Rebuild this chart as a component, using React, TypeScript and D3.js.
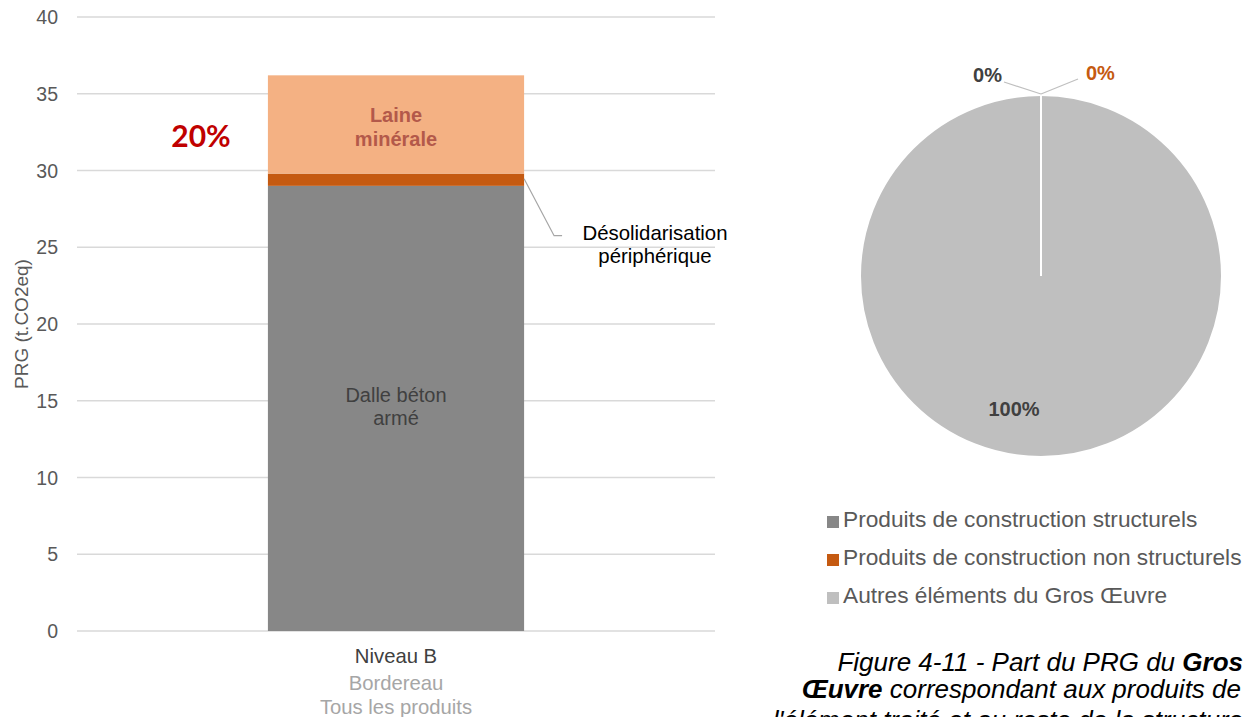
import React from "react";
import * as d3 from "d3";

// ---------- DATA ----------
const categories = ["Niveau B"];
const categorySubLabels = ["Bordereau", "Tous les produits"];
const barSeries = ["Dalle béton armé", "Désolidarisation périphérique", "Laine minérale"];
const barValues = [29.0, 0.8, 6.4];
const barColors = ["#878787", "#c55a11", "#f4b183"];
const yTicks = [0, 5, 10, 15, 20, 25, 30, 35, 40];
const yTitle = "PRG (t.CO2eq)";
const shareLabel = "20%";

const pieCategories = [
  "Produits de construction structurels",
  "Produits de construction non structurels",
  "Autres éléments du Gros Œuvre",
];
const pieValues = [0, 0, 100];
const pieColors = ["#878787", "#c55a11", "#bfbfbf"];
const pieLabelColors = ["#404040", "#c55a11", "#404040"];

const W = 1255;
const H = 717;

export default function App() {
  const x = d3.scaleBand<string>().domain(categories).range([77, 715]).padding(0.427);
  const y = d3.scaleLinear().domain([0, 40]).range([631, 17]);
  const bx = x(categories[0])!;
  const bw = x.bandwidth();
  const cx = bx + bw / 2;
  const stacks: { y0: number; y1: number }[] = [];
  let acc = 0;
  barValues.forEach((v) => {
    stacks.push({ y0: acc, y1: acc + v });
    acc += v;
  });

  const pcx = 1041;
  const pcy = 276;
  const R = 181;
  const pie = d3.pie<number>().sort(null).value((d) => d);
  const arcs = pie(pieValues);
  const arc = d3.arc<d3.PieArcDatum<number>>().innerRadius(0).outerRadius(R);
  const fmt = d3.format(".0%");
  const total = d3.sum(pieValues);
  const rimPt = (a: number, r: number) => [pcx + r * Math.sin(a), pcy - r * Math.cos(a)];

  const gray = "#595959";
  const font = "'Liberation Sans', Arial, sans-serif";

  const midDes = y(stacks[1].y0 + barValues[1] / 2);

  const big = arcs[2];
  const bigCentroid = d3.arc<any>().innerRadius(R * 0.73).outerRadius(R * 0.73).centroid(big as any);

  return (
    <svg width={W} height={H} style={{ position: "absolute", left: 0, top: 0, background: "#fff" }} fontFamily={font}>
      {yTicks.map((t) => (
        <g key={t}>
          <line x1={77} x2={715} y1={y(t)} y2={y(t)} stroke="#d9d9d9" strokeWidth={1.3} />
          <text x={58} y={y(t)} dy="0.36em" textAnchor="end" fontSize={19.5} fill={gray}>
            {t}
          </text>
        </g>
      ))}
      <text transform={`translate(28,324) rotate(-90)`} textAnchor="middle" fontSize={19} fill={gray}>
        {yTitle}
      </text>

      {stacks.map((s, i) => (
        <rect key={i} x={bx} width={bw} y={y(s.y1)} height={y(s.y0) - y(s.y1)} fill={barColors[i]} />
      ))}

      <text x={cx} y={y(stacks[0].y1 / 2) - 6} textAnchor="middle" fontSize={20} fill="#404040">
        <tspan x={cx}>Dalle béton</tspan>
        <tspan x={cx} dy={23}>armé</tspan>
      </text>
      <text x={cx} y={y((stacks[2].y0 + stacks[2].y1) / 2) - 2} textAnchor="middle" fontSize={20} fontWeight="bold" fill="#b3594a">
        <tspan x={cx}>Laine</tspan>
        <tspan x={cx} dy={24}>minérale</tspan>
      </text>
      <polyline
        points={`${bx + bw},${midDes - 1} ${bx + bw + 30},${midDes + 56} ${bx + bw + 38},${midDes + 56}`}
        fill="none"
        stroke="#a6a6a6"
        strokeWidth={1.2}
      />
      <text x={655} y={240} textAnchor="middle" fontSize={20.4} fill="#000">
        <tspan x={655}>Désolidarisation</tspan>
        <tspan x={655} dy={23}>périphérique</tspan>
      </text>
      <text x={201} y={147} textAnchor="middle" fontFamily="Lato, 'Open Sans', sans-serif" fontWeight="bold" fontSize={30} fill="#c00000">
        {shareLabel}
      </text>

      <text x={cx} y={663} textAnchor="middle" fontSize={20.3} fill="#404040">
        {categories[0]}
      </text>
      {categorySubLabels.map((s, i) => (
        <text key={s} x={cx} y={690 + i * 24} textAnchor="middle" fontSize={20.3} fill="#a6a6a6">
          {s}
        </text>
      ))}

      <g transform={`translate(${pcx},${pcy})`}>
        {[...arcs].reverse().map((a, i) => (
          <path key={i} d={arc(a) || ""} fill={pieColors[a.index]} stroke="#fff" strokeWidth={2} />
        ))}
      </g>
      {(() => {
        const a0 = arcs[0].startAngle;
        const [sx, sy] = rimPt(a0, R + 1);
        return (
          <g>
            <polyline points={`${sx},${sy} ${sx - 37},${sy - 12}`} fill="none" stroke="#bfbfbf" strokeWidth={1.2} />
            <polyline points={`${sx},${sy} ${sx + 37},${sy - 15}`} fill="none" stroke="#bfbfbf" strokeWidth={1.2} />
            <text x={sx - 39} y={sy - 12} textAnchor="end" fontSize={20} fontWeight="bold" fill={pieLabelColors[0]}>
              {fmt(arcs[0].value / total)}
            </text>
            <text x={sx + 45} y={sy - 14} textAnchor="start" fontSize={20} fontWeight="bold" fill={pieLabelColors[1]}>
              {fmt(arcs[1].value / total)}
            </text>
            <text x={bigCentroid[0] + pcx - 27} y={bigCentroid[1] + pcy + 8} textAnchor="middle" fontSize={20} fontWeight="bold" fill={pieLabelColors[2]}>
              {fmt(arcs[2].value / total)}
            </text>
          </g>
        );
      })()}

      {pieCategories.map((c, i) => (
        <g key={c} transform={`translate(827,${527 + i * 38})`}>
          <rect x={0} y={-11} width={12} height={12} fill={pieColors[i]} />
          <text x={16} y={0} fontSize={22.7} fill={gray}>
            {c}
          </text>
        </g>
      ))}

      <g fontStyle="italic" fontSize={26} fill="#000" textAnchor="end">
        <text x={1243} y={671}>
          Figure 4-11 - Part du PRG du <tspan fontWeight="bold">Gros</tspan>
        </text>
        <text x={1241} y={698}>
          <tspan fontWeight="bold">Œuvre</tspan> correspondant aux produits de
        </text>
        <text x={1243} y={729}>
          l'élément traité et au reste de la structure
        </text>
      </g>
    </svg>
  );
}
